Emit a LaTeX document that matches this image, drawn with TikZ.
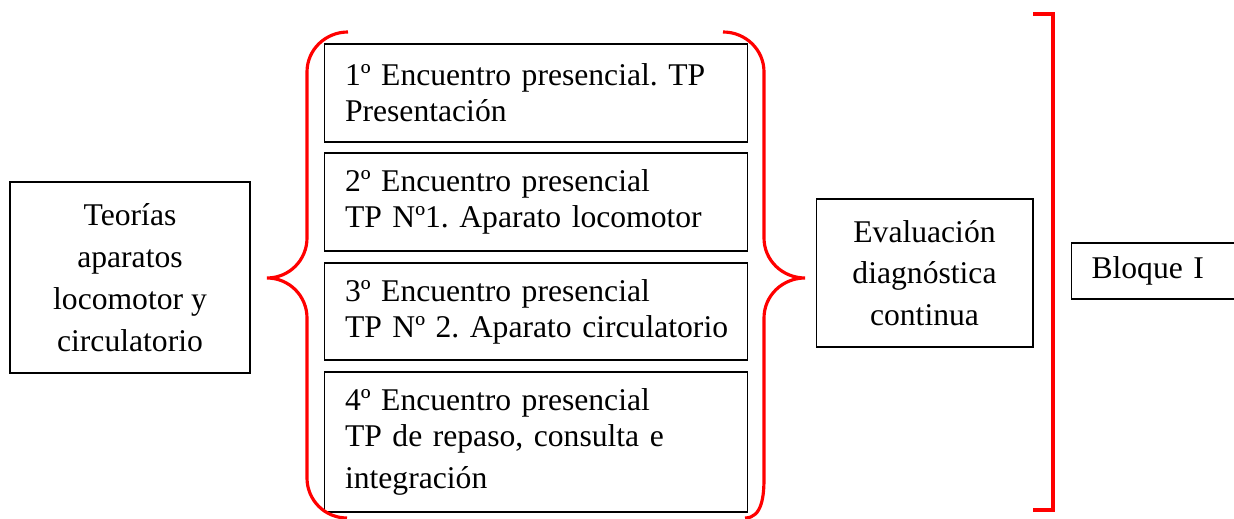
\documentclass[tikz,border=0pt]{standalone}
\usepackage{fontspec}
\setmainfont{Liberation Serif}
\usepackage{xcolor}
\usepackage{tikz}
\usetikzlibrary{positioning}
\definecolor{bracered}{rgb}{1.0, 0.0, 0.0}
\frenchspacing

\begin{document}
\begin{tikzpicture}[x=0.02cm, y=-0.02cm,
    box/.style={draw, line width=0.6pt, inner sep=0pt,
      font=\fontsize{18}{23.8}\selectfont},
    encbox/.style={box, minimum width=8.48cm, align=left,
      text width=7.64cm, font=\fontsize{18}{20.6}\selectfont},
    brace/.style={draw=bracered, line width=1.8pt}]
      \useasboundingbox (0,0) rectangle (1234,519);
      \clip (0,0) rectangle (1234,519);

      % Theory
      \node[box, minimum width=4.8cm, minimum height=3.82cm, align=center]
        (teorias) at (130,277.5) {Teorías\\aparatos\\locomotor y\\circulatorio};

      % Encounters
      \node[encbox, minimum height=1.96cm] (enc1) at (536,93)
        {\mbox{1º Encuentro presencial. TP}\\Presentación};
      \node[encbox, minimum height=1.96cm] (enc2) at (536,202)
        {2º Encuentro presencial\\\mbox{TP Nº1. Aparato locomotor}};
      \node[encbox, minimum height=1.94cm] (enc3) at (536,311.5)
        {3º Encuentro presencial\\\mbox{TP Nº 2. Aparato circulatorio}};
      \node[encbox, minimum height=2.8cm] (enc4) at (536,442)
        {4º Encuentro presencial\\\mbox{TP de repaso, consulta e}\\[3pt]integración};

      % Braces
      \draw[brace] (348,32) to[out=180,in=90] (307,72) -- (307,238)
        to[out=-90,in=0] (267,278) to[out=0,in=90] (307,318)
        -- (307,478) to[out=-90,in=180] (347,518);
      \draw[brace] (723,32) to[out=0,in=90] (764,72) -- (764,238)
        to[out=-90,in=180] (805,278) to[out=180,in=90] (764,318)
        -- (764,478) to[out=-90,in=0] (745,518);

      % Evaluation
      \node[box, minimum width=4.34cm, minimum height=2.96cm, align=center]
        (evalua) at (924.5,273) {Evaluación\\diagnóstica\\continua};

      % Block
      \draw[brace, line width=2pt] (1033,14) -- (1053,14) -- (1053,510) -- (1033,510);
      \node[box, anchor=west, minimum width=3.6cm, minimum height=1.12cm,
        text width=2.8cm, align=left] (bloque) at (1071,271) {Bloque I};
\end{tikzpicture}
\end{document}
